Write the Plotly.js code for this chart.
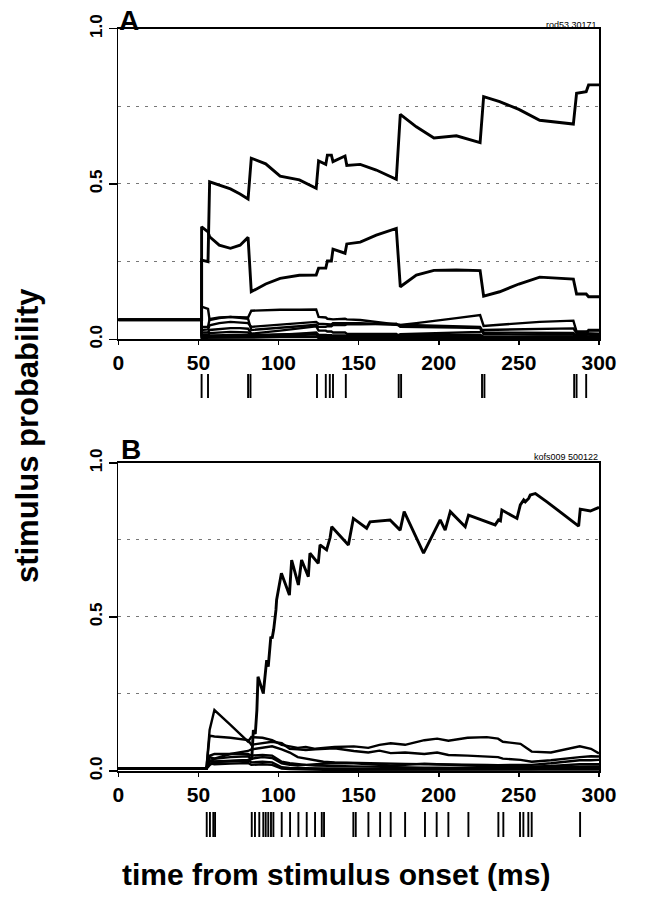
<!DOCTYPE html>
<html><head><meta charset="utf-8">
<script src="https://cdn.plot.ly/plotly-3.0.1.min.js"></script>
<style>html,body{margin:0;padding:0;background:#fff}#chart{width:666px;height:899px}</style>
</head><body><div id="chart"></div>
<script>
// ---------- Panel A (time grid in ms, stimulus probabilities) ----------
const tA = [0,52,52,56,57,63,70,76,81,83,92,101,113,123.5,125,129.5,130.5,133,134,141.5,142.6,151,161,173.5,176,186,197,211,225.8,228,238,250,263,284,286,292,293.5,300];
const A1 = [.0625,.0625,.255,.25,.507,.497,.484,.468,.452,.583,.565,.525,.513,.486,.574,.563,.593,.593,.572,.590,.560,.563,.545,.515,.724,.684,.648,.655,.633,.781,.765,.740,.705,.693,.792,.797,.819,.819];
const A2 = [.0625,.0625,.362,.346,.330,.303,.293,.303,.328,.153,.178,.196,.206,.207,.229,.229,.252,.252,.290,.277,.307,.313,.335,.357,.169,.207,.222,.223,.221,.139,.153,.178,.200,.194,.146,.146,.137,.137];
const A3 = [.0625,.0625,.105,.098,.062,.068,.072,.072,.070,.092,.094,.095,.095,.096,.072,.070,.066,.065,.064,.066,.064,.062,.055,.047,.046,.045,.044,.042,.040,.022,.022,.021,.020,.020,.010,.010,.009,.009];
const A4 = [.0625,.0625,.030,.032,.045,.052,.056,.055,.052,.040,.044,.048,.052,.056,.050,.050,.048,.048,.052,.050,.052,.052,.050,.048,.046,.052,.060,.068,.078,.043,.047,.052,.056,.060,.025,.025,.028,.028];
const A5 = [.0625,.0625,.040,.040,.065,.070,.072,.070,.066,.030,.033,.037,.042,.047,.040,.040,.042,.042,.046,.046,.048,.048,.049,.050,.040,.040,.039,.038,.036,.016,.016,.015,.015,.015,.006,.006,.006,.006];
const A6 = [.0625,.0625,.022,.022,.030,.033,.036,.036,.034,.018,.022,.028,.035,.042,.028,.028,.025,.025,.022,.022,.018,.018,.018,.017,.008,.008,.008,.008,.008,.005,.006,.007,.008,.009,.012,.012,.030,.030];
const A7 = [.0625,.0625,.012,.012,.020,.022,.024,.023,.022,.010,.012,.015,.018,.022,.014,.014,.013,.013,.012,.012,.010,.010,.010,.010,.016,.018,.020,.022,.024,.030,.031,.032,.034,.035,.020,.020,.018,.018];
const A8 = [.0625,.0625,.008,.008,.012,.013,.014,.014,.013,.008,.009,.011,.013,.016,.010,.010,.009,.009,.008,.008,.007,.007,.007,.007,.004,.004,.004,.004,.004,.002,.002,.002,.002,.002,.001,.001,.001,.001];
const A9 = [.0625,.0625,.015,.015,.008,.008,.008,.008,.008,.014,.015,.016,.017,.018,.006,.006,.005,.005,.005,.005,.004,.004,.004,.004,.012,.013,.014,.014,.015,.008,.008,.008,.008,.008,.004,.004,.003,.003];
const A10 = [.0625,.0625,.005,.005,.004,.004,.004,.004,.004,.006,.006,.007,.007,.008,.004,.004,.004,.004,.004,.004,.003,.003,.003,.003,.002,.002,.002,.002,.002,.006,.006,.007,.007,.008,.016,.016,.014,.014];
const spikesA = [52,56,81,82.5,124,129.5,132,134,142,175,176.5,227,228.5,284.5,286,292];

// ---------- Panel B ----------
const tB1 = [0,55,57,60,81,83.3,84.3,85.5,86.5,87.2,90.5,92.6,93.6,95.2,96,97,98.4,98.8,101.8,106.8,108.2,112.4,114.4,118.6,119.6,124.8,125.9,130,132.2,133.2,143.6,146.7,155,157.1,169.6,175.9,178.4,190.5,200.9,204,207.2,216.5,218.6,235.2,237.3,238.5,239.4,248.8,250.9,253,254,256.1,257.1,260.3,267.5,287.3,288.3,294.6,300];
const pB1 = [.008,.008,.02,.03,.035,.04,.133,.12,.198,.306,.252,.36,.339,.436,.43,.46,.523,.555,.642,.571,.685,.604,.685,.631,.707,.674,.734,.718,.758,.793,.734,.820,.788,.809,.815,.782,.842,.707,.815,.782,.842,.793,.831,.799,.815,.812,.847,.820,.864,.880,.874,.885,.896,.901,.874,.795,.850,.844,.856];
const tBo = [0,55,57,60,70,81,83,90,96,102,107,112,117,123,128,135,147,156,163,170,179,191,199,206,218,230,237,240,251,258,270,288,295,300];
const B2 = [.008,.008,.133,.198,.150,.095,.110,.108,.100,.085,.080,.075,.078,.072,.075,.078,.080,.075,.085,.090,.085,.100,.105,.098,.108,.110,.105,.095,.088,.063,.060,.080,.072,.057];
const B3 = [.008,.008,.115,.112,.108,.100,.085,.090,.095,.090,.072,.070,.068,.070,.072,.074,.065,.060,.066,.058,.060,.055,.060,.052,.050,.048,.045,.040,.036,.030,.035,.045,.048,.047];
const B4 = [.008,.008,.030,.040,.055,.065,.070,.075,.080,.070,.060,.045,.040,.035,.030,.028,.026,.025,.025,.024,.023,.022,.022,.021,.020,.020,.019,.019,.018,.020,.025,.035,.035,.036];
const B5 = [.008,.008,.050,.055,.055,.055,.050,.052,.050,.030,.025,.022,.020,.018,.017,.016,.015,.014,.013,.012,.012,.011,.011,.010,.010,.010,.010,.010,.012,.014,.016,.022,.022,.022];
const B6 = [.008,.008,.045,.040,.045,.048,.040,.045,.042,.025,.020,.018,.020,.022,.024,.026,.025,.022,.020,.018,.020,.024,.022,.020,.018,.016,.015,.015,.014,.013,.013,.014,.015,.015];
const B7 = [.008,.008,.035,.030,.032,.034,.028,.030,.028,.012,.010,.009,.009,.008,.008,.008,.007,.007,.007,.006,.006,.006,.006,.005,.005,.005,.005,.005,.005,.006,.008,.010,.010,.010];
const B8 = [.008,.008,.025,.022,.024,.026,.020,.022,.020,.008,.006,.005,.005,.005,.004,.004,.004,.004,.004,.003,.003,.003,.003,.003,.003,.003,.003,.003,.003,.003,.004,.005,.005,.005];
const spikesB = [55.2,57.2,59.3,60.4,83.3,85.3,88.0,90.5,92.0,93.6,95.3,96.8,102,107.2,112.4,117.6,122.8,127,128.4,146.7,148.2,156.1,163.4,170,179,191.4,198.7,206,218.5,237.2,240.3,250.7,252.8,255.9,258,288.2];

// ---------- tick labels ----------
const xTickVals = [0,50,100,150,200,250,300];
const xTickText = ['0','50','100','150','200','250','300'];
const yTickVals = [0,0.5,1];
const yTickText = ['0.0','0.5','1.0'];

const FONT = 'Liberation Sans, Arial, Helvetica, sans-serif';
const traces = [];
function addCurve(x, y, xa, ya, w) {
  traces.push({type:'scatter', mode:'lines', x:x, y:y, xaxis:xa, yaxis:ya,
    line:{color:'#000', width:w}, hoverinfo:'skip', showlegend:false});
}
[A1,A2,A3,A4,A5,A6,A7,A8,A9,A10].forEach((c,i)=>addCurve(tA, c, 'x', 'y', i<2?2.9:2.4));
addCurve(tB1, pB1, 'x2', 'y2', 2.9);
[B2,B3,B4,B5,B6,B7,B8].forEach(c=>addCurve(tBo, c, 'x2', 'y2', 2.4));
function raster(sp, xa, ya) {
  const x=[], y=[];
  sp.forEach(t=>{x.push(t,t,null); y.push(0,1,null);});
  traces.push({type:'scatter', mode:'lines', x:x, y:y, xaxis:xa, yaxis:ya,
    line:{color:'#000', width:1.9}, hoverinfo:'skip', showlegend:false, connectgaps:false});
}
raster(spikesA, 'x3', 'y3');
raster(spikesB, 'x4', 'y4');

const XD = [0.1776, 0.8994];
function xAxis(anchor) {
  return {domain:XD, range:[0,300], anchor:anchor, showline:true, mirror:true,
    linecolor:'#000', linewidth:1.6, ticks:'outside', ticklen:4, tickwidth:1.5, tickcolor:'#000',
    tickvals:xTickVals, ticktext:xTickText,
    tickfont:{family:FONT, size:21, weight:700, color:'#000'},
    showgrid:false, zeroline:false, fixedrange:true};
}
function yAxis(anchor, dom) {
  return {domain:dom, range:[0,1], anchor:anchor, showline:true, mirror:true,
    linecolor:'#000', linewidth:1.6, ticks:'outside', ticklen:8, tickwidth:1.5, tickcolor:'#000',
    tickvals:yTickVals, ticktext:yTickText, tickangle:-90,
    tickfont:{family:FONT, size:17, weight:700, color:'#000'},
    showgrid:true, gridcolor:'#777', gridwidth:1, griddash:'3px,6px',
    minor:{dtick:0.25, tick0:0, showgrid:true, gridcolor:'#777', gridwidth:1, griddash:'3px,6px', ticks:''},
    zeroline:false, fixedrange:true};
}
function hidden(anchor, dom, isX) {
  const a = {domain:dom, anchor:anchor, visible:false, fixedrange:true, showgrid:false, zeroline:false};
  a.range = isX ? [0,300] : [0,1];
  return a;
}

const layout = {
  width:666, height:899, margin:{l:0,r:0,t:0,b:0},
  paper_bgcolor:'#fff', plot_bgcolor:'rgba(0,0,0,0)', showlegend:false,
  font:{family:FONT, color:'#000'},
  xaxis: xAxis('y'),
  yaxis: yAxis('x', [0.6226, 0.9681]),
  xaxis2: xAxis('y2'),
  yaxis2: yAxis('x2', [0.1424, 0.4850]),
  xaxis3: hidden('y3', XD, true),
  yaxis3: hidden('x3', [0.5573, 0.5840], false),
  xaxis4: hidden('y4', XD, true),
  yaxis4: hidden('x4', [0.0690, 0.0968], false),
  annotations: [
    {text:'stimulus probability', xref:'paper', yref:'paper', x:0.0405, y:0.516, textangle:-90,
     xanchor:'center', yanchor:'middle',
     showarrow:false, font:{family:FONT, size:31, weight:700, color:'#000'}},
    {text:'time from stimulus onset (ms)', xref:'paper', yref:'paper', x:0.5045, y:0.0267,
     xanchor:'center', yanchor:'middle',
     showarrow:false, font:{family:FONT, size:30, weight:700, color:'#000'}},
    {text:'A', xref:'paper', yref:'paper', x:0.176, y:0.9775, xanchor:'left', yanchor:'middle',
     showarrow:false, font:{family:FONT, size:28, weight:700, color:'#000'}},
    {text:'B', xref:'paper', yref:'paper', x:0.179, y:0.4995, xanchor:'left', yanchor:'middle',
     showarrow:false, font:{family:FONT, size:28, weight:700, color:'#000'}},
    {text:'rod53 30171', xref:'paper', yref:'paper', x:0.899, y:0.9725, xanchor:'right', yanchor:'middle',
     showarrow:false, font:{family:'Liberation Sans Narrow, Liberation Sans, Arial', size:9, color:'#000'}},
    {text:'kofs009 500122', xref:'paper', yref:'paper', x:0.901, y:0.492, xanchor:'right', yanchor:'middle',
     showarrow:false, font:{family:'Liberation Sans Narrow, Liberation Sans, Arial', size:9, color:'#000'}}
  ]
};
Plotly.newPlot('chart', traces, layout, {staticPlot:true, displayModeBar:false});
</script></body></html>
